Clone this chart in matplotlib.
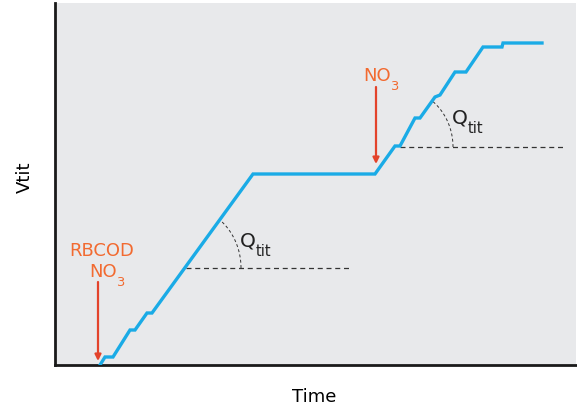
import numpy as np
import matplotlib.pyplot as plt

# titrated volume curve (arbitrary units)
time_pts = [45, 50, 58, 75, 80, 92, 97, 198, 320, 340, 345, 360, 365,
            380, 385, 400, 411, 428, 447, 448, 487]
vtit_pts = [0, 8, 8, 35, 35, 52, 52, 191, 191, 219, 219, 247, 247,
            268, 270, 293, 293, 318, 318, 322, 322]

# dashed reference lines for the slope (x start, x end, level)
ref_lines = [(131, 297, 97), (345, 509, 218)]
# angle arcs: centre x, centre y, rx, ry, end angle (deg)
arcs = [(131, 97, 55, 61, 54), (345, 218, 53, 58, 54)]
# Q_tit labels (left x, baseline y)
q_labels = [(185, 119), (397, 242)]
# NO3 labels (left x, baseline y)
no3_labels = [(34, 89), (308, 285)]

# dosing arrows: x, y start, y end
arrows = [(43, 83, 4), (321, 278, 201)]

BLUE = '#1aabe6'
ORANGE = '#f26a30'
RED = '#e3432b'


def sub_text(x, y, main, sub, color, size):
    t = ax.text(x, y, main, color=color, fontsize=size, ha='left', va='baseline')
    ax.annotate(sub, xy=(1, 0), xycoords=t, xytext=(-0.5, -3.8),
                textcoords='offset points', color=color,
                fontsize=size * 0.72, ha='left', va='baseline')


fig = plt.figure(figsize=(5.77, 4.10), dpi=100)
ax = fig.add_axes([55 / 577, 44 / 410, 521 / 577, 362 / 410])
ax.set_facecolor('#e8e9eb')
ax.set_xlim(0, 521)
ax.set_ylim(0, 362)

ax.plot(time_pts, vtit_pts, color=BLUE, lw=2.4, solid_joinstyle='miter', zorder=3)

for x0, x1, y in ref_lines:
    ax.plot([x0, x1], [y, y], color='#333333', lw=0.9, ls=(0, (4, 3)))

for cx, cy, rx, ry, ang in arcs:
    t_end = np.arctan2(np.tan(np.radians(ang)) * rx, ry)
    t = np.linspace(0, t_end, 40)
    ax.plot(cx + rx * np.cos(t), cy + ry * np.sin(t), color='#333333',
            lw=0.7, ls=(0, (3, 2.5)))

for x, y in q_labels:
    sub_text(x, y, 'Q', 'tit', '#222222', 14.5)

for x, y0, y1 in arrows:
    ax.annotate('', xy=(x, y1), xytext=(x, y0),
                arrowprops=dict(arrowstyle='-|>', color=RED, lw=1.6,
                                mutation_scale=9, shrinkA=0, shrinkB=0))

ax.text(47, 110, 'RBCOD', color=ORANGE, fontsize=13, ha='center', va='baseline')
for x, y in no3_labels:
    sub_text(x, y, 'NO', '3', ORANGE, 13)

ax.set_xticks([])
ax.set_yticks([])
for side in ['top', 'right']:
    ax.spines[side].set_visible(False)
for side in ['left', 'bottom']:
    ax.spines[side].set_linewidth(2)
    ax.spines[side].set_color('#1a1a1a')

fig.text(314 / 577, 1 - 397 / 410, 'Time', fontsize=13, ha='center', va='center')
fig.text(25 / 577, 1 - 177 / 410, 'Vtit', fontsize=13, ha='center', va='center',
         rotation=90)

fig.savefig('out.png', dpi=100)
